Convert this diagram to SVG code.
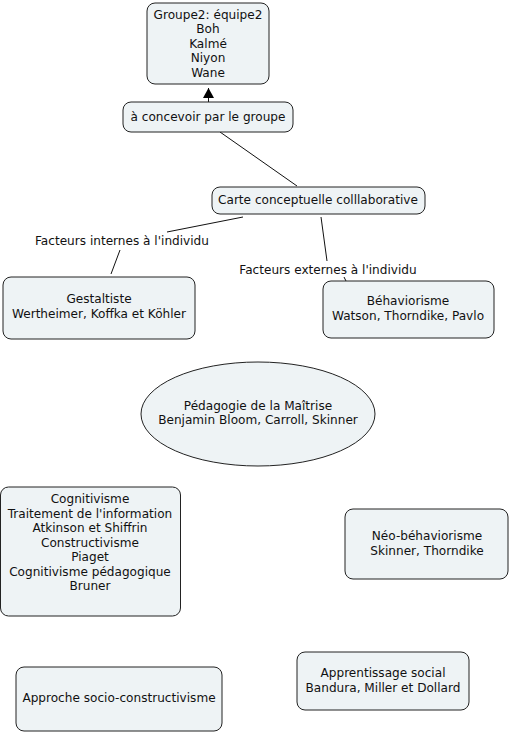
<svg xmlns="http://www.w3.org/2000/svg" width="512" height="733" viewBox="0 0 512 733">
<style>
.n{fill:#eef3f5;stroke:#222;stroke-width:1}
text{font-family:"DejaVu Sans",Verdana,sans-serif;font-size:12.1px;fill:#111;text-anchor:middle}
.c{stroke:#111;stroke-width:1;fill:none}
</style>
<defs>
<marker id="ah" markerWidth="12" markerHeight="12" refX="10" refY="5.5" orient="auto" markerUnits="userSpaceOnUse"><path d="M0,0 L10,5.5 L0,11 z" fill="#000"/></marker>
</defs>
<rect width="512" height="733" fill="#fff"/>
<g id="connectors">
<line class="c" x1="208.5" y1="102" x2="208.5" y2="88" marker-end="url(#ah)"/>
<line class="c" x1="220" y1="132" x2="297" y2="186"/>
<line class="c" x1="243" y1="217" x2="167" y2="232"/>
<line class="c" x1="120" y1="250" x2="111" y2="274"/>
<line class="c" x1="321" y1="217" x2="327" y2="261"/>
<line class="c" x1="344" y1="277" x2="346" y2="281"/>
<text x="122" y="245">Facteurs internes à l'individu</text>
<text x="328" y="274">Facteurs externes à l'individu</text>
</g>
<g id="groupe2">
<rect class="n" x="147" y="3" width="122" height="81" rx="8"/>
<text x="208" y="19">Groupe2: équipe2</text>
<text x="208" y="33">Boh</text>
<text x="208" y="48">Kalmé</text>
<text x="208" y="62">Niyon</text>
<text x="208" y="77">Wane</text>
</g>
<g id="concevoir">
<rect class="n" x="123" y="102" width="170" height="30" rx="8"/>
<text x="208" y="121">à concevoir par le groupe</text>
</g>
<g id="carte">
<rect class="n" x="212" y="187" width="213" height="27" rx="8"/>
<text x="318" y="204">Carte conceptuelle colllaborative</text>
</g>
<g id="gestaltiste">
<rect class="n" x="3" y="277" width="192" height="62" rx="8"/>
<text x="99" y="303">Gestaltiste</text>
<text x="99" y="318">Wertheimer, Koffka et Köhler</text>
</g>
<g id="behaviorisme">
<rect class="n" x="323" y="281" width="171" height="57" rx="8"/>
<text x="408" y="305">Béhaviorisme</text>
<text x="408" y="320">Watson, Thorndike, Pavlo</text>
</g>
<g id="maitrise">
<ellipse class="n" cx="258" cy="414" rx="117" ry="52"/>
<text x="258" y="410">Pédagogie de la Maîtrise</text>
<text x="258" y="424">Benjamin Bloom, Carroll, Skinner</text>
</g>
<g id="cognitivisme">
<rect class="n" x="0.5" y="487" width="180" height="129" rx="8"/>
<text x="90" y="503">Cognitivisme</text>
<text x="90" y="518">Traitement de l'information</text>
<text x="90" y="532">Atkinson et Shiffrin</text>
<text x="90" y="547">Constructivisme</text>
<text x="90" y="561">Piaget</text>
<text x="90" y="576">Cognitivisme pédagogique</text>
<text x="90" y="590">Bruner</text>
</g>
<g id="neo">
<rect class="n" x="345" y="509" width="163" height="70" rx="8"/>
<text x="427" y="540">Néo-béhaviorisme</text>
<text x="427" y="555">Skinner, Thorndike</text>
</g>
<g id="apprentissage">
<rect class="n" x="297" y="652" width="172" height="58" rx="8"/>
<text x="383" y="677">Apprentissage social</text>
<text x="383" y="692">Bandura, Miller et Dollard</text>
</g>
<g id="approche">
<rect class="n" x="16" y="667" width="206" height="64" rx="8"/>
<text x="119" y="702">Approche socio-constructivisme</text>
</g>
</svg>
